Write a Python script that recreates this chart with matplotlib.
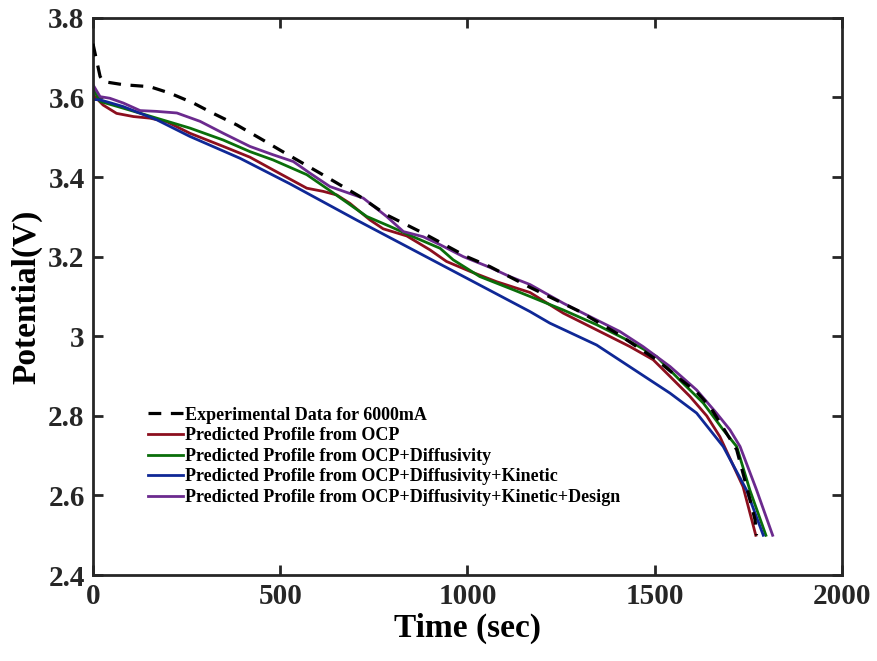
import numpy as np
import matplotlib
matplotlib.use('Agg')
import matplotlib.pyplot as plt

plt.rcParams['font.family'] = ['Liberation Serif', 'DejaVu Serif']
plt.rcParams['font.weight'] = 'bold'

# experimental discharge at 6000mA
t_exp = [0, 19, 27, 81, 152, 205, 268, 321, 384, 454, 499, 606, 713, 784, 882, 998, 1060,
         1167, 1300, 1398, 1452, 1505, 1559, 1612, 1648, 1719, 1750, 1768, 1772]
v_exp = [3.735, 3.653, 3.640, 3.632, 3.627, 3.611, 3.586, 3.560, 3.531, 3.493, 3.468, 3.410,
         3.351, 3.305, 3.259, 3.200, 3.175, 3.123, 3.062, 3.008, 2.974, 2.941, 2.899, 2.860,
         2.823, 2.715, 2.606, 2.539, 2.50]

# predicted from OCP
t_ocp = [0, 27, 63, 108, 152, 197, 259, 348, 419, 481, 571, 615, 651, 686, 740, 775, 838,
         900, 944, 1007, 1078, 1167, 1256, 1345, 1434, 1496, 1541, 1594, 1639, 1674, 1736,
         1770]
v_ocp = [3.607, 3.581, 3.560, 3.552, 3.548, 3.539, 3.510, 3.477, 3.450, 3.418, 3.372, 3.364,
         3.355, 3.334, 3.292, 3.270, 3.252, 3.217, 3.188, 3.163, 3.137, 3.110, 3.058, 3.016,
         2.974, 2.941, 2.899, 2.849, 2.800, 2.748, 2.622, 2.50]

# OCP + diffusivity
t_dif = [0, 19, 81, 170, 259, 348, 419, 481, 571, 642, 731, 793, 855, 927, 962, 1033, 1122,
         1167, 1256, 1345, 1434, 1505, 1567, 1630, 1683, 1719, 1754, 1797]
v_dif = [3.623, 3.590, 3.573, 3.548, 3.523, 3.493, 3.464, 3.443, 3.406, 3.360, 3.301, 3.276,
         3.250, 3.221, 3.192, 3.150, 3.117, 3.100, 3.066, 3.029, 2.987, 2.949, 2.890, 2.832,
         2.765, 2.723, 2.614, 2.50]

# OCP + diffusivity + kinetic
t_kin = [0, 19, 81, 170, 259, 393, 526, 704, 1000, 1167, 1220, 1345, 1541, 1612, 1683,
         1745, 1790]
v_kin = [3.595, 3.594, 3.577, 3.544, 3.502, 3.447, 3.383, 3.292, 3.145, 3.062, 3.033, 2.978,
         2.857, 2.807, 2.723, 2.614, 2.50]

# OCP + diffusivity + kinetic + design
t_des = [0, 19, 45, 81, 126, 170, 224, 286, 348, 419, 481, 535, 579, 633, 722, 784, 829,
         882, 927, 989, 1060, 1113, 1167, 1256, 1345, 1407, 1469, 1541, 1612, 1665, 1701,
         1728, 1772, 1815]
v_des = [3.632, 3.602, 3.598, 3.586, 3.567, 3.565, 3.561, 3.540, 3.510, 3.477, 3.456, 3.439,
         3.410, 3.376, 3.347, 3.301, 3.263, 3.250, 3.230, 3.200, 3.173, 3.150, 3.130, 3.083,
         3.041, 3.012, 2.974, 2.924, 2.865, 2.807, 2.765, 2.723, 2.614, 2.50]

labels = ['Experimental Data for 6000mA',
          'Predicted Profile from OCP',
          'Predicted Profile from OCP+Diffusivity',
          'Predicted Profile from OCP+Diffusivity+Kinetic',
          'Predicted Profile from OCP+Diffusivity+Kinetic+Design']

fig = plt.figure(figsize=(8.77, 6.61), dpi=100)
ax = fig.add_axes([0.106, 0.130, 0.854, 0.843])

ax.plot(t_exp, v_exp, color='black', lw=2.3, dashes=(4, 3), label=labels[0], zorder=5)
ax.plot(t_ocp, v_ocp, color='#8c0f1e', lw=2.0, label=labels[1])
ax.plot(t_dif, v_dif, color='#0a6e0a', lw=2.0, label=labels[2])
ax.plot(t_kin, v_kin, color='#0f2896', lw=2.0, label=labels[3])
ax.plot(t_des, v_des, color='#6b2a8e', lw=2.0, label=labels[4])

ax.set_xlim(0, 2000)
ax.set_ylim(2.4, 3.8)
ax.set_xticks([0, 500, 1000, 1500, 2000])
ax.set_yticks([2.4, 2.6, 2.8, 3.0, 3.2, 3.4, 3.6, 3.8])
ax.set_yticklabels(['2.4', '2.6', '2.8', '3', '3.2', '3.4', '3.6', '3.8'])
ax.tick_params(direction='in', length=7, width=2, top=True, right=True,
               labelsize=21, pad=6, colors='#262626')
for lab in ax.get_xticklabels() + ax.get_yticklabels():
    lab.set_fontweight('bold')
for s in ax.spines.values():
    s.set_linewidth(2)
    s.set_color('#262626')

ax.set_xlabel('Time (sec)', fontsize=24, fontweight='bold', labelpad=2)
ax.set_ylabel('Potential(V)', fontsize=24, fontweight='bold', labelpad=4)

leg = ax.legend(loc='upper left', bbox_to_anchor=(0.057, 0.325), frameon=False,
                fontsize=13, handlelength=1.9, handletextpad=0.15, labelspacing=0.2,
                borderpad=0.2)
for txt in leg.get_texts():
    txt.set_fontweight('bold')

fig.savefig('out.png', dpi=100)
